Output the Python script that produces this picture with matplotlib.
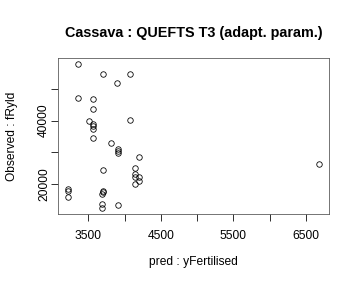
import matplotlib
matplotlib.use('Agg')
import matplotlib.pyplot as plt

plt.rcParams['font.family'] = ['Liberation Sans', 'DejaVu Sans']

# predicted vs observed yield
pred = [3362, 3699, 4080, 3896, 3362, 3569, 3569, 3505, 4080, 3569,
        3569, 3569, 3569, 3814, 3906, 3906, 3906, 4204, 3699, 4145,
        4145, 4145, 4204, 4204, 4145, 3220, 3220, 3220, 3699, 3699,
        3685, 3685, 3685, 3906, 6682]
observed = [57736, 54403, 54403, 51572, 46950, 46730, 43585, 39937, 40126, 38868,
            38239, 37421, 34686, 32893, 31132, 30503, 29874, 28711, 24403, 25031,
            23145, 22327, 22421, 20943, 20000, 18553, 17925, 16226, 18113, 17704,
            16981, 14025, 12579, 13711, 26509]

x_ticks = [3500, 4000, 4500, 5000, 5500, 6000, 6500]
x_labels = ['3500', '', '4500', '', '5500', '', '6500']
y_ticks = [20000, 30000, 40000, 50000]
y_labels = ['20000', '', '40000', '']

fig = plt.figure(figsize=(5, 4), dpi=72)
ax = fig.add_axes([58 / 360, 1 - 214 / 288, (329 - 58) / 360, (214 - 58) / 288])

ax.plot(pred, observed, 'o', mfc='none', mec='black', ms=5.5, mew=0.8)

# R style 4% padding
xmin, xmax = min(pred), max(pred)
ymin, ymax = min(observed), max(observed)
dx = (xmax - xmin) * 0.04
dy = (ymax - ymin) * 0.04
ax.set_xlim(xmin - dx, xmax + dx)
ax.set_ylim(ymin - dy, ymax + dy)

ax.set_xticks(x_ticks)
ax.set_xticklabels(x_labels)
ax.set_yticks(y_ticks)
ax.set_yticklabels(y_labels, rotation=90, va='center')

ax.tick_params(axis='both', length=7, width=0.8, colors='black', labelsize=12)
ax.tick_params(axis='x', pad=9)
ax.tick_params(axis='y', pad=1)

for s in ax.spines.values():
    s.set_color('#555555')
    s.set_linewidth(0.8)

ax.set_title('Cassava : QUEFTS T3 (adapt. param.)', fontsize=14.4,
             fontweight='bold', pad=21)
ax.set_xlabel('pred : yFertilised', fontsize=12, labelpad=14)
ax.set_ylabel('Observed : fRyld', fontsize=12, labelpad=20)

fig.savefig('out.png', dpi=72)
